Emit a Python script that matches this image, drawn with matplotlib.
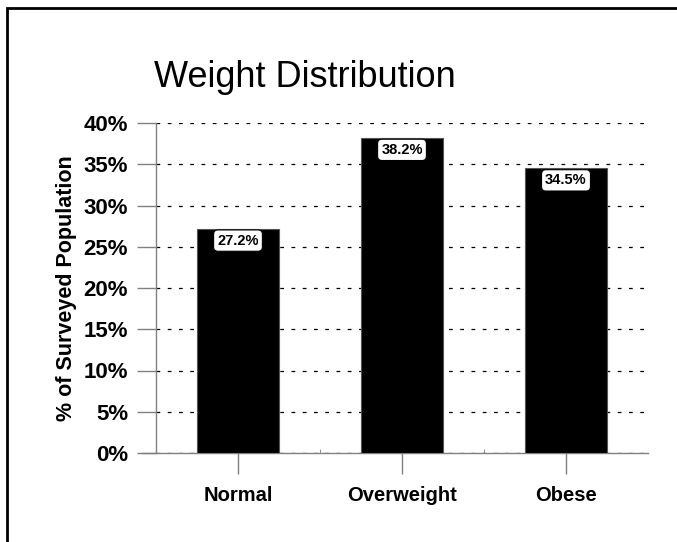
import matplotlib
matplotlib.use("Agg")
import matplotlib.pyplot as plt
from matplotlib.patches import Rectangle
from matplotlib.ticker import FuncFormatter, MultipleLocator, FixedLocator

categories = ["Normal", "Overweight", "Obese"]
values = [27.2, 38.2, 34.5]
title = "Weight Distribution"
ylabel = "% of Surveyed Population"

plt.rcParams['font.family'] = ['Liberation Sans', 'DejaVu Sans']

W, H = 677, 542
fig = plt.figure(figsize=(W / 100, H / 100), dpi=100)
fig.patch.set_facecolor('white')

# outer frame (extends beyond right and bottom edges)
fig.add_artist(Rectangle((6.5 / W, -0.1), 1.2, 1.1 - 7.5 / H,
                         transform=fig.transFigure, fill=False,
                         edgecolor='black', linewidth=2))

ax = fig.add_axes([156 / W, 1 - 453 / H, (648 - 156) / W, (453 - 123) / H])
x = list(range(len(categories)))
ax.bar(x, values, width=0.5, color='black', edgecolor='#555555', linewidth=0.8, zorder=3)

ax.set_xlim(-0.5, 2.5)
ax.set_ylim(0, 40)
ax.yaxis.set_major_locator(MultipleLocator(5))
ax.yaxis.set_major_formatter(FuncFormatter(lambda v, p: f"{v:.0f}%"))
ax.set_xticks(x)
ax.set_xticklabels(categories, fontsize=14.5, fontweight='bold')
ax.xaxis.set_minor_locator(FixedLocator([0.5, 1.5]))
ax.tick_params(axis='x', which='minor', length=3, direction='in', color='#808080')
ax.tick_params(axis='x', which='major', length=15, width=1, color='#808080', pad=9)
ax.tick_params(axis='y', length=14, width=1, color='#808080', pad=6, labelsize=16)
for lbl in ax.get_yticklabels():
    lbl.set_fontweight('bold')

ax.grid(axis='y', color='black', linestyle=(0, (3, 6)), linewidth=0.9, zorder=0)
ax.set_axisbelow(True)
for s in ['top', 'right']:
    ax.spines[s].set_visible(False)
for s in ['left', 'bottom']:
    ax.spines[s].set_color('#808080')
    ax.spines[s].set_linewidth(1)
ax.spines['bottom'].set_bounds(-0.5 - 14 / 164, 2.5)

ax.set_ylabel(ylabel, fontsize=15.5, fontweight='bold', labelpad=5)

for xi, v in zip(x, values):
    ax.annotate(f"{v:.1f}%", (xi, v), xytext=(0, -12), textcoords='offset pixels',
                ha='center', va='center', fontsize=10.5, fontweight='bold', zorder=5,
                bbox=dict(boxstyle='round,pad=0.25,rounding_size=0.3', fc='white',
                          ec='black', lw=0.8))

fig.text(305 / W, 1 - 87 / H, title, ha='center', va='baseline', fontsize=26)

fig.savefig("out.png", dpi=100)
